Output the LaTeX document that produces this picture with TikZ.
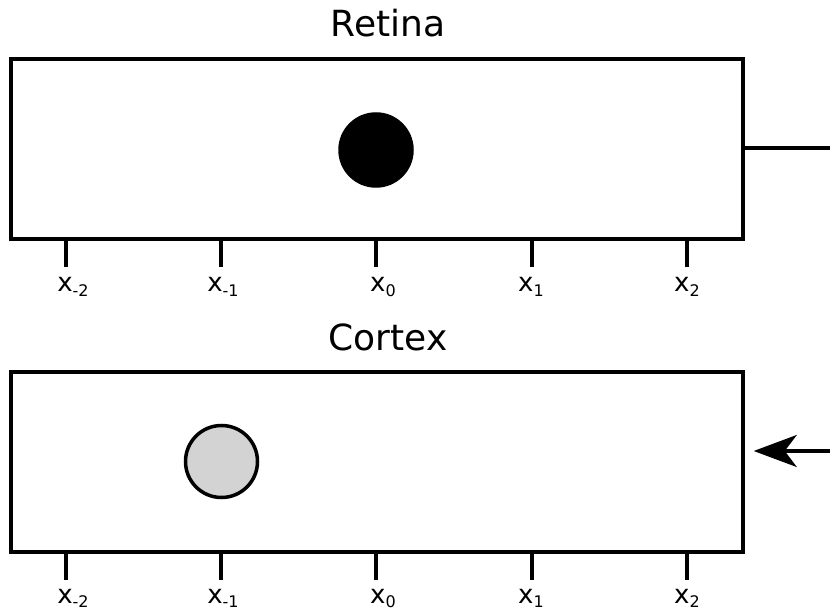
\documentclass[tikz,border=0pt]{standalone}
\usepackage{fontspec}
\setmainfont{DejaVu Sans}
\usetikzlibrary{arrows.meta}
\tikzset{
  panel/.style={draw=black, line width=3.5pt, fill=white, rectangle, inner sep=0pt, minimum width=732pt, minimum height=180pt},
  title/.style={font=\fontsize{36}{40}\selectfont, anchor=base, inner sep=0pt},
  tick/.style={line width=3.5pt},
  lab/.style={font=\fontsize{26}{28}\selectfont, anchor=base, inner sep=0pt},
  wire/.style={line width=3.5pt},
  dot/.style={circle, draw=black, line width=3.5pt, minimum size=72pt, inner sep=0pt},
}
\newcommand{\sub}[1]{\raisebox{-4.5pt}[0pt][0pt]{\fontsize{16}{17}\selectfont #1}}
\begin{document}
\begin{tikzpicture}[x=1pt,y=-1pt]
\useasboundingbox (0,0) rectangle (830,612);
% Retina
\node[title] (rtitle) at (388,37) {Retina};
\node[panel] (retina) at (377,149) {};
\node[dot, fill=black] (rdot) at (376,150) {};
\foreach \i/\x/\c/\t in {a/66/73/{-2}, b/221/223/{-1}, c/376/383/0, d/532/531/1, e/687/687/2}{
  \coordinate (rt\i) at (\x,239);
  \coordinate (rb\i) at (\x,267);
  \draw[tick] (rt\i) -- (rb\i);
  \node[lab] (rl\i) at (\c,292) {x\sub{\t}};
}
\coordinate (rout) at (830,148);
\draw[wire] (retina.east |- rout) -- (rout);
% Cortex
\node[title] (ctitle) at (388,350) {Cortex};
\node[panel] (cortex) at (377,462) {};
\node[dot, fill={rgb,255:red,211;green,211;blue,211}] (cdot) at (221.5,461.5) {};
\foreach \i/\x/\c/\t in {a/66/73/{-2}, b/221/223/{-1}, c/376/383/0, d/532/531/1, e/687/687/2}{
  \coordinate (ct\i) at (\x,552);
  \coordinate (cb\i) at (\x,580);
  \draw[tick] (ct\i) -- (cb\i);
  \node[lab] (cl\i) at (\c,603) {x\sub{\t}};
}
\coordinate (cin) at (830,451);
\draw[wire, -{Stealth[length=43pt, width=32pt, inset=12pt]}, shorten >=9pt] (cin) -- (cortex.east |- cin);
\end{tikzpicture}
\end{document}
